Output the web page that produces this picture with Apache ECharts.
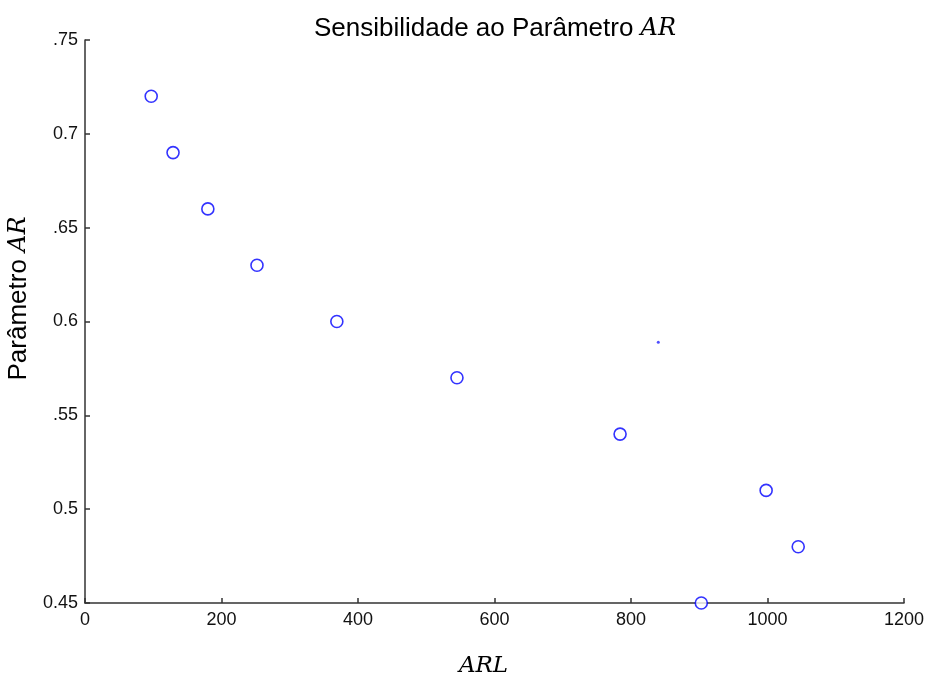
<!DOCTYPE html>
<html>
<head>
<meta charset="utf-8">
<script src="https://cdn.jsdelivr.net/npm/echarts@6/dist/echarts.min.js"></script>
<style>
  html, body { margin: 0; padding: 0; background: #fff; }
  #chart { width: 926px; height: 675px; }
</style>
</head>
<body>
<div id="chart"></div>
<script>
// dados
var arlValues = [97, 129, 180, 252, 369, 545, 784, 903, 998, 1045];
var arValues = [0.72, 0.69, 0.66, 0.63, 0.60, 0.57, 0.54, 0.45, 0.51, 0.48];
var strayPoint = [[840, 0.589]];
var yTickLabels = ['0.45', '0.5', '.55', '0.6', '.65', '0.7', '.75'];

var points = arlValues.map(function (x, i) { return [x, arValues[i]]; });

var myChart = echarts.init(document.getElementById('chart'));
myChart.setOption({
  animation: false,
  textStyle: { fontFamily: 'Liberation Sans, Arial, sans-serif' },
  title: {
    text: 'Sensibilidade ao Parâmetro {i|AR}',
    left: 490,
    textAlign: 'center',
    top: 11,
    textStyle: {
      fontSize: 26,
      fontWeight: 'normal',
      color: '#000',
      fontFamily: 'Liberation Sans, Arial, sans-serif',
      rich: {
        i: { fontSize: 24, fontStyle: 'italic', fontFamily: 'DejaVu Serif, Liberation Serif, serif', color: '#000' }
      }
    }
  },
  grid: { left: 85, right: 22, top: 40, bottom: 72, outerBoundsMode: 'none' },
  xAxis: {
    type: 'value',
    min: 0,
    max: 1200,
    interval: 200,
    name: 'ARL',
    nameLocation: 'middle',
    nameGap: 52,
    nameTextStyle: {
      fontSize: 23,
      fontStyle: 'italic',
      fontFamily: 'DejaVu Serif, Liberation Serif, serif',
      color: '#000',
      padding: [0, 22, 0, 0]
    },
    axisLine: { lineStyle: { color: '#333', width: 1.5 } },
    axisTick: { inside: true, length: 5, lineStyle: { color: '#333', width: 1.5 } },
    axisLabel: {
      fontSize: 18,
      color: '#111',
      margin: 8,
      formatter: function (v) { return String(v); }
    },
    splitLine: { show: false }
  },
  yAxis: {
    type: 'value',
    min: 0.45,
    max: 0.75,
    interval: 0.05,
    name: 'Parâmetro {i|AR}',
    nameLocation: 'middle',
    nameGap: 50,
    nameRotate: 90,
    nameTextStyle: {
      fontSize: 26,
      color: '#000',
      padding: [0, 0, 0, 46],
      rich: {
        i: { fontSize: 24, fontStyle: 'italic', fontFamily: 'DejaVu Serif, Liberation Serif, serif', color: '#000' }
      }
    },
    axisLine: { show: true, lineStyle: { color: '#333', width: 1.5 } },
    axisTick: { show: true, inside: true, length: 5, lineStyle: { color: '#333', width: 1.5 } },
    axisLabel: {
      fontSize: 18,
      color: '#111',
      margin: 7,
      formatter: function (v) {
        var idx = Math.round((v - 0.45) / 0.05);
        return yTickLabels[idx] || '';
      }
    },
    splitLine: { show: false }
  },
  series: [
    {
      type: 'scatter',
      data: points,
      symbol: 'circle',
      symbolSize: 12,
      itemStyle: { color: '#fff', borderColor: '#0000ff', borderWidth: 1.6 },
      clip: false
    },
    {
      type: 'scatter',
      data: strayPoint,
      symbol: 'circle',
      symbolSize: 3,
      itemStyle: { color: '#2222ff' }
    }
  ]
});
</script>
</body>
</html>
